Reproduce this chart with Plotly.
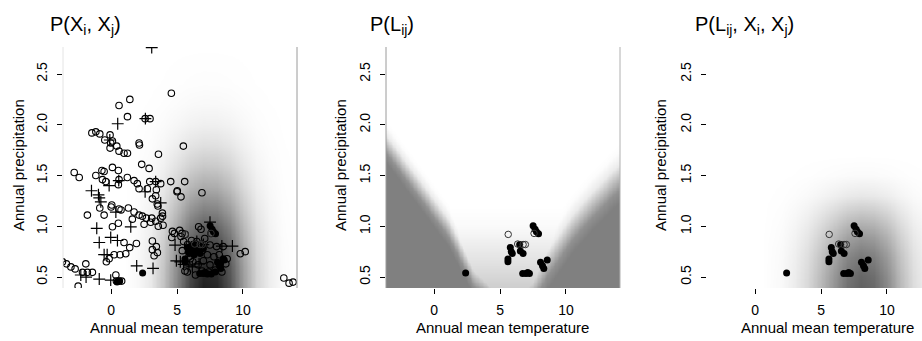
import numpy as np
import plotly.graph_objects as go

# ---------------- data ----------------
# Panel 1: all observations, open circles
open_T = [4.57, 1.42, 0.6, 1.24, 2.58, 2.95, -1.46, -1.16, -0.86, -0.48, -0.08, -0.03, 0.1, 0.43,
          -0.08, 0.6, 0.98, 1.24, 2.12, 2.15, 3.59, 2.32, 2.88, 0.1, 5.48,
          -2.8, -2.42, -1.16, -0.7, -0.53, 0.55, -0.66, -0.4, 0.6, 0.55, 1.23, 1.74, 1.99, 2.12,
          2.75, 2.93, 3.38, 3.43, 3.76, 4.52, 5.02, 5.58, 5.0, 5.3, 6.89,
          -0.86, -1.8, -0.53, 0.05, 0.0, 0.6, 0.75, 1.31, 1.61, 1.74, 2.12, 2.37, 2.67, 3.08,
          2.5, 3.0, 3.38, 3.76, 3.94, 3.58, 3.13, 3.5, 3.55, 3.38, 3.89, 3.9, 4.65, 4.8,
          0.1, 0.55, 0.98, 1.41, 1.11, -0.15, 0.23, 0.68, -0.36, 1.92, 3.13, 3.43, 3.13, 3.51, 3.26,
          -3.69, -3.39, -3.05, -2.73, -1.92, -2.17, -1.8, -1.42, 0.36, 0.4, 0.6, 0.8, -2.5,
          5.2, 5.38, 5.3, 6.64, 6.82, 7.5, 8.0, 8.5, 9.8, 10.17, 5.6, 6.4, 6.0, 13.1, 13.5, 13.8,
          5.62, 6.34, 6.75, 6.92, 7.58, 5.78, 4.6, 5.5, 5.8, 6.1, 6.3, 6.5, 6.9, 7.1, 7.3,
          5.9, 6.2, 6.6, 7.0, 7.5, 7.8, 8.2, 5.4, 6.9, 7.4, 7.9, 8.4, 8.7, 8.8]
open_P = [2.31, 2.25, 2.19, 2.08, 2.06, 2.06, 1.92, 1.93, 1.91, 1.85, 1.90, 1.82, 1.84, 1.79,
          1.77, 1.74, 1.72, 1.72, 1.82, 1.80, 1.71, 1.61, 1.57, 1.58, 1.79,
          1.53, 1.48, 1.50, 1.55, 1.54, 1.55, 1.46, 1.44, 1.46, 1.41, 1.48, 1.45, 1.42, 1.37,
          1.37, 1.44, 1.44, 1.36, 1.42, 1.44, 1.35, 1.44, 1.34, 1.29, 1.33,
          1.18, 1.11, 1.11, 1.21, 1.19, 1.17, 1.16, 1.18, 1.07, 1.14, 1.11, 1.10, 1.08, 1.08,
          1.02, 1.04, 1.05, 1.08, 1.01, 1.00, 1.27, 1.22, 1.20, 1.30, 1.13, 1.10, 0.95, 0.93,
          0.995, 1.03, 0.84, 0.79, 0.73, 0.68, 0.72, 0.72, 0.65, 0.83, 0.855, 0.80, 0.77, 0.74, 0.71,
          0.65, 0.63, 0.60, 0.58, 0.63, 0.546, 0.546, 0.546, 0.52, 0.46, 0.46, 0.46, 0.41,
          0.96, 0.93, 0.90, 0.995, 0.97, 0.815, 0.80, 0.80, 0.73, 0.75, 0.56, 0.52, 0.68, 0.49, 0.44, 0.45,
          0.92, 0.825, 0.82, 0.82, 0.93, 0.55, 0.89, 0.85, 0.82, 0.86, 0.78, 0.85, 0.76, 0.88, 0.72,
          0.70, 0.65, 0.62, 0.66, 0.62, 0.70, 0.72, 0.76, 0.56, 0.55, 0.57, 0.55, 0.63, 0.68]
# Panel 1: crosses
cross_T = [3.08, 0.5, -0.96, -0.9, -0.15, 0.58, 2.58, -1.49, -0.78, 0.36, 1.49, -1.09, -0.9,
           -0.03, 0.48, -0.53, -0.3, 4.85, 4.95, 1.94, 3.18, -2.3, -0.9, -0.03, 5.25, 5.5, 5.9,
           8.4, 9.2, 6.16, 6.67, -1.9, 3.76, -0.1, 2.6, 3.38, 7.5, 6.5, 7.0]
cross_P = [2.76, 2.01, 1.31, 1.28, 1.40, 1.45, 1.34, 1.35, 1.24, 1.14, 0.995, 0.98, 0.84,
           0.89, 0.86, 0.72, 0.72, 0.815, 0.66, 0.61, 0.585, 0.52, 0.48, 0.47, 0.65, 0.625, 0.61,
           0.805, 0.805, 0.60, 0.63, 0.50, 1.23, 1.85, 2.06, 1.44, 1.04, 0.85, 0.82]
# Panel 1 only: dense overlapping dots
extra_filled_T = [0.45, 0.65, 6.0, 6.2, 6.4, 6.6, 6.8, 7.0, 6.1, 6.3, 5.9, 7.3, 7.6, 7.9, 8.3, 8.5]
extra_filled_P = [0.45, 0.46, 0.80, 0.78, 0.80, 0.82, 0.80, 0.78, 0.74, 0.72, 0.76, 0.53, 0.53, 0.55, 0.63, 0.68]
# Linked observations (filled and open), shown in all panels
link_filled_T = [2.39, 5.78, 5.93, 5.85, 6.54, 6.75, 5.6, 5.6, 7.51, 7.66, 7.76, 7.92, 6.49,
                 8.07, 8.22, 8.32, 8.58, 6.72, 6.97, 7.23, 7.1]
link_filled_P = [0.54, 0.79, 0.733, 0.75, 0.756, 0.733, 0.677, 0.65, 1.005, 0.97, 0.946, 0.927, 0.82,
                 0.645, 0.61, 0.585, 0.667, 0.536, 0.536, 0.536, 0.545]
link_open_T = [5.62, 6.34, 6.75, 6.92, 7.58]
link_open_P = [0.92, 0.825, 0.82, 0.82, 0.93]

# Background profiles
# panel 1 density: darkness along temperature and along precipitation
f1_T = [-3.7, 1.0, 2.0, 3.0, 4.0, 5.0, 6.0, 7.0, 8.0, 9.0, 10.0, 11.0, 12.0, 13.0, 14.2]
f1_v = [0.0, 0.0, 0.03, 0.1, 0.28, 0.55, 0.85, 1.0, 0.97, 0.78, 0.45, 0.2, 0.08, 0.02, 0.0]
g1_P = [0.39, 0.6, 0.8, 1.0, 1.2, 1.4, 1.6, 1.8, 2.0, 2.2, 2.4, 2.8]
g1_v = [1.0, 0.95, 0.85, 0.7, 0.53, 0.37, 0.24, 0.14, 0.07, 0.03, 0.01, 0.0]
peak1 = 0.88
# panel 2: centre line of the left and right grey arms, grey level across an arm edge,
# and the lightest grey reached near the bottom of the white valley
armL_T = [-3.7, 1.0, 3.0, 4.0, 5.75, 14.2]
armL_P = [1.82, 1.0, 0.5, 0.4, 0.2, -2.0]
armR_T = [-3.7, 5.75, 7.5, 8.5, 10.5, 12.0, 13.5, 14.2]
armR_P = [-2.0, 0.2, 0.4, 0.62, 1.0, 1.22, 1.42, 1.5]
edge_d = [-0.18, -0.09, 0.0, 0.09, 0.18, 0.24]
edge_g = [128, 145, 190, 235, 252, 255]
cap_P = [0.39, 0.6, 0.8, 1.0, 1.2]
cap_g = [205, 222, 236, 250, 255]
# panel 3 joint
f3_T = [-3.7, 0.5, 2.0, 3.0, 4.0, 5.0, 6.0, 7.0, 8.0, 9.0, 10.0, 11.0, 12.0, 12.8]
f3_v = [0.0, 0.0, 0.04, 0.12, 0.25, 0.45, 0.68, 0.9, 1.0, 0.95, 0.75, 0.45, 0.22, 0.12]
g3_P = [0.39, 0.5, 0.7, 0.9, 1.1, 1.3, 1.5, 1.7, 2.8]
g3_v = [1.0, 0.97, 0.85, 0.65, 0.4, 0.15, 0.03, 0.0, 0.0]
peak3 = 0.62

x_ticks = [0, 5, 10]
y_ticks = [0.5, 1.0, 1.5, 2.0, 2.5]
y_ticktext = ["0.5", "1.0", "1.5", "2.0", "2.5"]

titles = ["P(X<sub>i</sub>, X<sub>j</sub>)", "P(L<sub>ij</sub>)", "P(L<sub>ij</sub>, X<sub>i</sub>, X<sub>j</sub>)"]
xlab = "Annual mean temperature"
ylab = "Annual precipitation"

# ---------------- figure ----------------
W, H = 922, 341
def fx(p): return p / W
def fy(p): return 1 - p / H

Tg = np.linspace(-3.7, 14.2, 180)
Pg = np.linspace(0.38, 2.78, 160)
z1 = 255 * (1 - peak1 * np.outer(np.interp(Pg, g1_P, g1_v), np.interp(Tg, f1_T, f1_v)))
PP = Pg[:, None]
gL = np.interp(PP - np.interp(Tg, armL_T, armL_P)[None, :], edge_d, edge_g)
gR = np.interp((PP - np.interp(Tg, armR_T, armR_P)[None, :]) / 1.4, edge_d, edge_g)
gC = np.interp(PP, cap_P, cap_g) * np.ones_like(gL)
z2 = np.minimum(np.minimum(gL, gR), gC)
z3 = 255 * (1 - peak3 * np.outer(np.interp(Pg, g3_P, g3_v), np.interp(Tg, f3_T, f3_v)))

gray = [[0, "rgb(0,0,0)"], [1, "rgb(255,255,255)"]]
fig = go.Figure()
for i, z in enumerate([z1, z2, z3]):
    s = "" if i == 0 else str(i + 1)
    fig.add_trace(go.Heatmap(x=Tg, y=Pg, z=z, colorscale=gray, zmin=0, zmax=255, showscale=False,
                             zsmooth="best", hoverinfo="skip", xaxis="x" + s, yaxis="y" + s))

mk_open = dict(symbol="circle-open", size=6.5, color="black", line=dict(width=1.1, color="black"))
mk_cross = dict(symbol="cross-thin-open", size=8.5, color="black", line=dict(width=1.2, color="black"))
mk_fill = dict(symbol="circle", size=7, color="black")

fig.add_trace(go.Scatter(x=open_T, y=open_P, mode="markers", marker=mk_open, xaxis="x", yaxis="y"))
fig.add_trace(go.Scatter(x=cross_T, y=cross_P, mode="markers", marker=mk_cross, xaxis="x", yaxis="y"))
fig.add_trace(go.Scatter(x=extra_filled_T, y=extra_filled_P, mode="markers", marker=mk_fill,
                         xaxis="x", yaxis="y"))
for s in ["", "2", "3"]:
    fig.add_trace(go.Scatter(x=link_filled_T, y=link_filled_P, mode="markers", marker=mk_fill,
                             xaxis="x" + s, yaxis="y" + s))
    fig.add_trace(go.Scatter(x=link_open_T, y=link_open_P, mode="markers",
                             marker=dict(symbol="circle-open", size=6.5, color="#333",
                                         line=dict(width=1, color="#333")),
                             xaxis="x" + s, yaxis="y" + s))

font = "Liberation Sans, Arial, Helvetica, sans-serif"
ax_common = dict(showgrid=False, zeroline=False, showline=False, ticks="outside", ticklen=5,
                 tickwidth=1, tickcolor="black", fixedrange=True,
                 tickfont=dict(family=font, size=14, color="black"))
xdom = [(63, 297), (386, 620), (707, 922)]
xranges = [[-3.65, 14.1], [-3.65, 14.1], [-3.65, 12.66]]
ydom = [fy(288), fy(47)]
layout = {}
for i in range(3):
    s = "" if i == 0 else str(i + 1)
    layout["xaxis" + s] = dict(ax_common, domain=[fx(xdom[i][0]), fx(xdom[i][1])], range=xranges[i],
                               anchor="y" + s, tickvals=x_ticks, ticklabelstandoff=4)
    layout["yaxis" + s] = dict(ax_common, domain=ydom, range=[0.392, 2.766], anchor="x" + s,
                               tickvals=y_ticks, ticktext=y_ticktext, tickangle=-90,
                               ticklabelstandoff=4)

ann = []
title_x = [48, 368, 693]
xlab_x = [176, 503, 827]
ylab_x = [18, 340, 660]
for i in range(3):
    ann.append(dict(text=titles[i], x=fx(title_x[i]), y=fy(25), xref="paper", yref="paper",
                    xanchor="left", yanchor="middle", showarrow=False,
                    font=dict(family=font, size=20, color="black")))
    ann.append(dict(text=xlab, x=fx(xlab_x[i]), y=fy(327), xref="paper", yref="paper",
                    xanchor="center", yanchor="middle", showarrow=False,
                    font=dict(family=font, size=15, color="black")))
    ann.append(dict(text=ylab, x=fx(ylab_x[i]), y=fy(165), xref="paper", yref="paper",
                    xanchor="center", yanchor="middle", showarrow=False, textangle=-90,
                    font=dict(family=font, size=15, color="black")))

shapes = []
for xpix, col in [(63, "#e4e4e4"), (297, "#9a9a9a"), (386, "#9a9a9a"), (620, "#b0b0b0")]:
    shapes.append(dict(type="line", xref="paper", yref="paper", x0=fx(xpix), x1=fx(xpix),
                       y0=fy(288), y1=fy(47), line=dict(color=col, width=1)))

fig.update_layout(width=W, height=H, margin=dict(l=0, r=0, t=0, b=0), showlegend=False,
                  plot_bgcolor="white", paper_bgcolor="white", annotations=ann, shapes=shapes,
                  **layout)
fig.write_html("out.html", config={"displayModeBar": False},
               post_script="document.body.style.margin='0';document.body.style.overflow='hidden';")
